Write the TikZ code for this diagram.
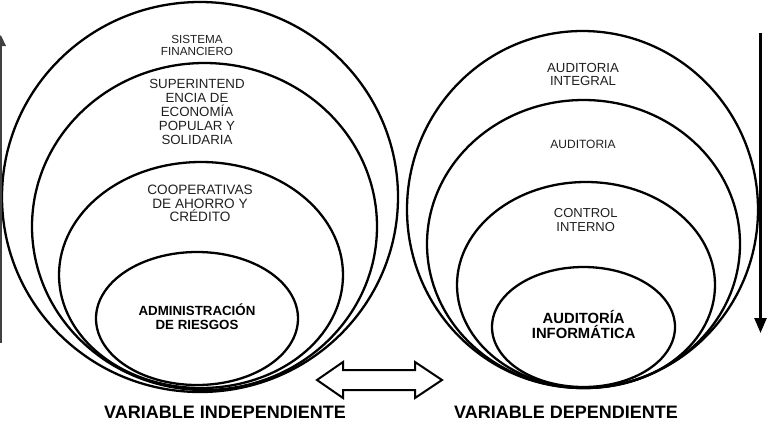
\documentclass[tikz,border=0pt]{standalone}
\usepackage{fontspec}
\setmainfont{Liberation Sans}
\usetikzlibrary{arrows.meta}

\begin{document}
\begin{tikzpicture}[x=1pt,y=-1pt,
  ring/.style={draw=black,line width=2.3pt},
  lbl/.style={align=center,inner sep=0pt,text=black!88,font=\fontsize{13.3}{14}\selectfont},
  keylbl/.style={align=center,inner sep=0pt,text=black,font=\bfseries\fontsize{13.3}{13.5}\selectfont},
  varlbl/.style={anchor=base,inner sep=0pt,font=\bfseries\fontsize{18}{20}\selectfont}]
\useasboundingbox (0,0) rectangle (767,426);

% independent variable: nested ellipses
\draw[ring] (200,197) ellipse [x radius=198, y radius=195];
\draw[ring] (204.5,226.5) ellipse [x radius=172.5, y radius=163.5];
\draw[ring] (201,275) ellipse [x radius=142, y radius=113];
\draw[ring] (197,318.5) ellipse [x radius=101, y radius=66.5];

\node[lbl,font=\fontsize{11.7}{12}\selectfont] (sf) at (197,45) {SISTEMA\\FINANCIERO};
\node[lbl] (seps) at (197,112.3) {SUPERINTEND\\ENCIA DE\\ECONOMÍA\\POPULAR Y\\SOLIDARIA};
\node[lbl,font=\fontsize{13.6}{13.5}\selectfont] (coop) at (200,203.8) {COOPERATIVAS\\DE AHORRO Y\\CRÉDITO};
\node[keylbl] (riesgos) at (197,316.5) {ADMINISTRACIÓN\\DE RIESGOS};

% dependent variable: nested ellipses
\draw[ring] (582.5,209.5) ellipse [x radius=175.5, y radius=178.5];
\draw[ring] (583.5,244) ellipse [x radius=156.5, y radius=144];
\draw[ring] (586,285) ellipse [x radius=129, y radius=103];
\draw[ring] (583.5,327) ellipse [x radius=91.5, y radius=60];

\node[lbl,font=\fontsize{13.2}{13}\selectfont] (ai) at (583,74.8) {AUDITORIA\\INTEGRAL};
\node[lbl,font=\fontsize{12}{12}\selectfont,anchor=base] (aud) at (583,148) {AUDITORIA};
\node[lbl,font=\fontsize{13}{14}\selectfont] (ci) at (585.7,220.3) {CONTROL\\INTERNO};
\node[keylbl,font=\bfseries\fontsize{14.8}{15}\selectfont] (ainf) at (583.7,325) {AUDITORÍA\\INFORMÁTICA};

% variable captions
\node[varlbl] (vi) at (225,418) {VARIABLE INDEPENDIENTE};
\node[varlbl] (vd) at (566,418) {VARIABLE DEPENDIENTE};

% side arrows
\coordinate (upA) at (0.8,343);
\coordinate (upB) at (0.8,35);
\draw[black!75,line width=1.5pt,-{Triangle[width=10pt,length=11pt]}] (upA) -- (upB);
\coordinate (dnA) at (760.5,33);
\coordinate (dnB) at (760.5,333);
\draw[black,line width=2.5pt,-{Triangle[width=12pt,length=15pt]}] (dnA) -- (dnB);

% double-headed hollow arrow between the two variables
\draw[black,line width=2pt,fill=white,line join=miter]
  (317,380) -- (343,362) -- (343,370) -- (415,370) -- (415,362) -- (442,380)
  -- (415,398) -- (415,390) -- (343,390) -- (343,398) -- cycle;
\end{tikzpicture}
\end{document}
